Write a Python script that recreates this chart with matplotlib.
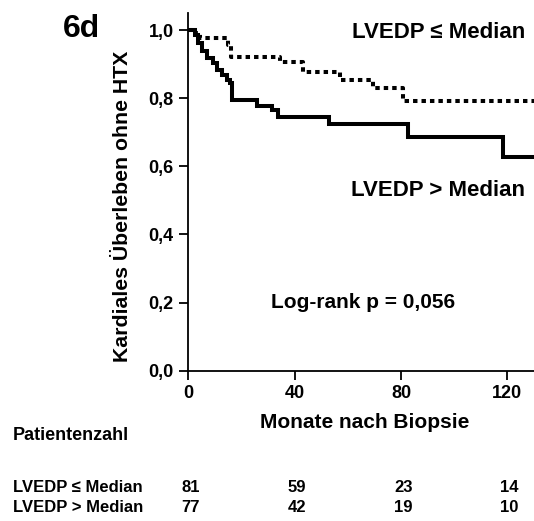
import matplotlib
matplotlib.use("Agg")
import matplotlib.pyplot as plt
import matplotlib.transforms as mtransforms

plt.rcParams['font.family'] = ['Liberation Sans', 'DejaVu Sans']
plt.rcParams['font.weight'] = 'bold'

# Kaplan-Meier curves (months, survival)
t_low = [0, 1.9, 4.4, 15.0, 16.0, 34.4, 43.2, 57.0, 69.5, 80.8, 130]
s_low = [1.0, 0.99, 0.976, 0.957, 0.92, 0.906, 0.877, 0.854, 0.830, 0.793, 0.793]

t_high = [0, 2.5, 3.8, 5.0, 6.9, 9.4, 10.7, 12.5, 14.4, 15.7, 16.3,
          25.9, 31.3, 33.8, 53.0, 82.6, 118.3, 130]
s_high = [1.0, 0.985, 0.962, 0.937, 0.918, 0.903, 0.884, 0.869, 0.854, 0.845,
          0.795, 0.778, 0.766, 0.746, 0.724, 0.686, 0.626, 0.626]

x_ticks = [0, 40, 80, 120]
y_ticks = [0.0, 0.2, 0.4, 0.6, 0.8, 1.0]
y_ticklabels = ["0,0", "0,2", "0,4", "0,6", "0,8", "1,0"]

groups = ["LVEDP \u2264 Median", "LVEDP > Median"]
at_risk_low = [81, 59, 23, 14]
at_risk_high = [77, 42, 19, 10]

W, H = 534, 521
fig = plt.figure(figsize=(W / 100, H / 100), dpi=100)


def fx(px):
    return px / W


def fy(py):
    return 1 - py / H


ax = fig.add_axes([fx(188.3), fy(370.7), fx(534) - fx(188.3), fy(13) - fy(370.7)])

ax.step(t_high, s_high, where='post', color='black', lw=2.9, solid_joinstyle='miter')
ax.step(t_low, s_low, where='post', color='black', lw=2.9,
        linestyle=(0, (1.1, 1.0)), dash_capstyle='butt')

ax.set_xlim(0, 130)
ax.set_ylim(0, 1.05)
ax.set_xticks(x_ticks)
ax.set_xticklabels([str(v) for v in x_ticks], fontsize=13, fontweight='bold')
ax.set_yticks(y_ticks)
ax.set_yticklabels(y_ticklabels, fontsize=13, fontweight='bold')
ax.tick_params(direction='out', length=6.5, width=1.3, pad=4)
for side in ['top', 'right']:
    ax.spines[side].set_visible(False)
for side in ['left', 'bottom']:
    ax.spines[side].set_linewidth(1.3)

fig.text(fx(365), fy(423), "Monate nach Biopsie", fontsize=15, fontweight='bold',
         ha='center', va='center')
fig.text(fx(123), fy(206), "Kardiales \u00dcberleben ohne HTX", rotation=90,
         fontsize=15.3, fontweight='bold', ha='center', va='center')

fig.text(fx(81), fy(29), "6d", fontsize=23, fontweight='bold', ha='center', va='center')
fig.text(fx(525), fy(33), groups[0], fontsize=16, fontweight='bold', ha='right', va='center')
fig.text(fx(525), fy(191), groups[1], fontsize=16, fontweight='bold', ha='right', va='center')
fig.text(fx(363), fy(303), "Log-rank p = 0,056", fontsize=15, fontweight='bold',
         ha='center', va='center')

# numbers at risk table
fig.text(fx(13), fy(435), "Patientenzahl", fontsize=13, fontweight='bold', va='center')
trans = mtransforms.blended_transform_factory(ax.transData, fig.transFigure)
for row_y, label, counts in [(487, groups[0], at_risk_low), (508, groups[1], at_risk_high)]:
    fig.text(fx(13), fy(row_y), label, fontsize=12, fontweight='bold', va='center')
    for xv, n in zip(x_ticks, counts):
        ax.text(xv + 0.8, fy(row_y), str(n), transform=trans, fontsize=12,
                fontweight='bold', ha='center', va='center', clip_on=False)

fig.savefig("out.png", dpi=100)
